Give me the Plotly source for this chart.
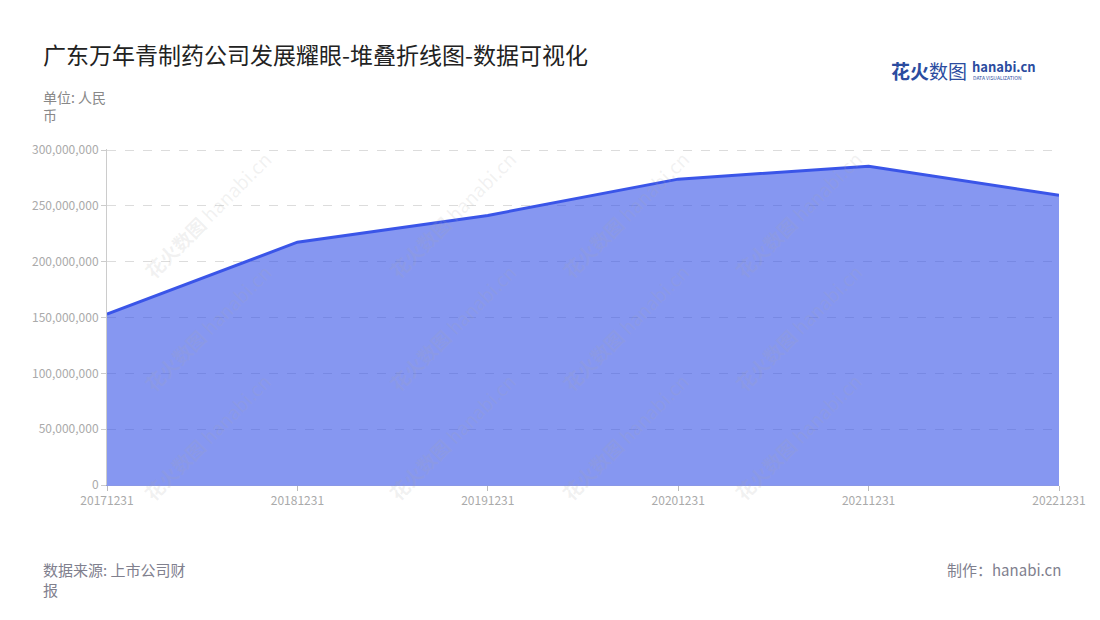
import plotly.graph_objects as go

categories = ["20171231", "20181231", "20191231", "20201231", "20211231", "20221231"]
values = [153000000, 217500000, 241500000, 274000000, 285500000, 259500000]
y_ticks = [0, 50000000, 100000000, 150000000, 200000000, 250000000, 300000000]
y_tick_labels = ["0", "50,000,000", "100,000,000", "150,000,000", "200,000,000", "250,000,000", "300,000,000"]

FONT = "Noto Sans CJK SC, Noto Sans, sans-serif"

fig = go.Figure()
fig.add_trace(go.Scatter(
    x=categories, y=values, mode="lines",
    line=dict(color="#3a55e8", width=3),
    fill="tozeroy", fillcolor="rgba(58,85,232,0.61)",
    hoverinfo="x+y", showlegend=False,
))

# watermarks
wm_x = [0.03, 0.287, 0.544, 0.801]
wm_y = [1.02, 0.47, -0.07]
for wx in wm_x:
    for wy in wm_y:
        fig.add_annotation(
            xref="paper", yref="paper", x=wx, y=wy,
            text="<b>花火数图</b> hanabi.cn", showarrow=False, textangle=-45,
            font=dict(family=FONT, size=19, color="rgba(170,170,170,0.16)"),
        )

fig.add_annotation(xref="paper", yref="paper", x=-0.069, y=1.284, xanchor="left", yanchor="middle",
                   text="广东万年青制药公司发展耀眼-堆叠折线图-数据可视化", showarrow=False,
                   font=dict(family=FONT, size=23, color="#222"))
fig.add_annotation(xref="paper", yref="paper", x=-0.069, y=1.19, xanchor="left", yanchor="top",
                   text="单位: 人民<br>币", showarrow=False, align="left",
                   font=dict(family=FONT, size=14, color="#888"))
fig.add_annotation(xref="paper", yref="paper", x=-0.069, y=-0.215, xanchor="left", yanchor="top",
                   text="数据来源: 上市公司财<br>报", showarrow=False, align="left",
                   font=dict(family=FONT, size=15, color="#80808e"))
fig.add_annotation(xref="paper", yref="paper", x=1.004, y=-0.215, xanchor="right", yanchor="top",
                   text="制作：hanabi.cn", showarrow=False, align="right",
                   font=dict(family=FONT, size=15, color="#80808e"))
# logo
fig.add_annotation(xref="paper", yref="paper", x=0.905, y=1.233, xanchor="right", yanchor="middle",
                   text="<b>花火</b>数图", showarrow=False,
                   font=dict(family=FONT, size=19, color="#2b4c9f"))
fig.add_annotation(xref="paper", yref="paper", x=0.906, y=1.245, xanchor="left", yanchor="middle",
                   text="<b>hanabi.cn</b>", showarrow=False,
                   font=dict(family=FONT, size=13, color="#2b4c9f"))
fig.add_annotation(xref="paper", yref="paper", x=0.908, y=1.213, xanchor="left", yanchor="middle",
                   text="DATA VISUALIZATION", showarrow=False,
                   font=dict(family=FONT, size=5, color="#2b4c9f"))

fig.update_layout(
    width=1100, height=620,
    margin=dict(l=107, r=41, t=149, b=135),
    paper_bgcolor="white", plot_bgcolor="white",
    font=dict(family=FONT),
    xaxis=dict(
        type="category", range=[0, len(categories) - 1],
        showgrid=False, showline=True, linecolor="#8a98e6", linewidth=1,
        ticks="outside", ticklen=5, tickcolor="#bbb",
        tickfont=dict(size=12, color="#aaa"), zeroline=False,
    ),
    yaxis=dict(
        range=[0, 301000000], tickvals=y_ticks, ticktext=y_tick_labels,
        showgrid=True, gridcolor="#dcdcdc", griddash="dash",
        showline=True, linecolor="#ccc", linewidth=1,
        ticks="outside", ticklen=5, tickcolor="#ccc",
        tickfont=dict(size=12, color="#aaa"), zeroline=False,
    ),
)

fig.write_html("out.html", config={"displayModeBar": False},
               post_script="document.body.style.margin='0';")
